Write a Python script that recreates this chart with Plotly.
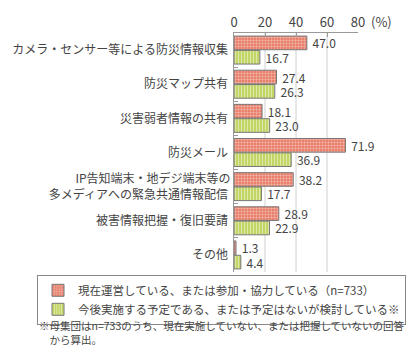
import plotly.graph_objects as go

categories = [
    "カメラ・センサー等による防災情報収集",
    "防災マップ共有",
    "災害弱者情報の共有",
    "防災メール",
    "IP告知端末・地デジ端末等の<br>多メディアへの緊急共通情報配信",
    "被害情報把握・復旧要請",
    "その他",
]
current = [47.0, 27.4, 18.1, 71.9, 38.2, 28.9, 1.3]
planned = [16.7, 26.3, 23.0, 36.9, 17.7, 22.9, 4.4]
name_current = "現在運営している、または参加・協力している（n=733）"
name_planned = "今後実施する予定である、または予定はないが検討している※"
tick_vals = [0, 20, 40, 60, 80]
grid_vals = [20, 40, 60]
note = "※母集団はn=733のうち、現在実施していない、または把握していないの回答<br>　から算出。"

FONT = "Noto Sans CJK JP"
TXT = "#444444"
B = 81
PH = 353 - 17 - B

fig = go.Figure()
fig.add_trace(go.Bar(
    y=categories, x=current, orientation="h", name=name_current,
    marker=dict(color="#e8806c", line=dict(color="#777777", width=1),
                pattern=dict(shape="+", fgcolor="white", size=3, solidity=0.3)),
    text=["\u00a0" + f"{v:.1f}" for v in current], textposition="outside",
    constraintext="none",
    textfont=dict(size=12, color=TXT, family=FONT), cliponaxis=False,
))
fig.add_trace(go.Bar(
    y=categories, x=planned, orientation="h", name=name_planned,
    marker=dict(color="#c2d666", line=dict(color="#777777", width=1),
                pattern=dict(shape="|", fgcolor="white", size=3, solidity=0.3)),
    text=["\u00a0" + f"{v:.1f}" for v in planned], textposition="outside",
    constraintext="none",
    textfont=dict(size=12, color=TXT, family=FONT), cliponaxis=False,
))

for g in grid_vals:
    fig.add_shape(type="line", xref="x", yref="paper", x0=g, x1=g, y0=0, y1=1,
                  line=dict(color="#d0d0d0", width=1), layer="below")

fig.add_annotation(text="(%)", xref="paper", yref="paper", x=1.09, y=1.0,
                   yshift=12, showarrow=False, xanchor="left", yanchor="middle",
                   font=dict(size=13, color=TXT, family=FONT))
fig.add_annotation(text=note, xref="paper", yref="paper", x=-1.58, y=-B / PH,
                   showarrow=False, xanchor="left", yanchor="bottom", align="left",
                   borderpad=0,
                   font=dict(size=10.5, color=TXT, family=FONT))

fig.update_layout(
    width=406, height=353,
    margin=dict(l=227, r=48, t=17, b=B),
    paper_bgcolor="white", plot_bgcolor="white",
    barmode="group", bargap=0.16, bargroupgap=0.05,
    font=dict(family=FONT, size=12, color=TXT),
    showlegend=True,
    legend=dict(x=-1.565, y=-3 / PH, xanchor="left", yanchor="top",
                bordercolor="#888888", borderwidth=1,
                font=dict(size=11.5, color=TXT, family=FONT),
                tracegroupgap=0, itemwidth=30),
    xaxis=dict(side="top", range=[0, 80], tickvals=tick_vals, showgrid=False,
               showline=True, linecolor="#999999", linewidth=1,
               ticks="inside", ticklen=4, tickcolor="#999999",
               tickfont=dict(size=13, color=TXT), zeroline=False, fixedrange=True),
    yaxis=dict(autorange="reversed", showline=True, linecolor="#999999", linewidth=1,
               ticks="inside", ticklen=4, tickcolor="#999999", tickson="boundaries",
               showgrid=False, tickfont=dict(size=12, color=TXT), ticksuffix=" "),
)

fig.write_html("out.html")
